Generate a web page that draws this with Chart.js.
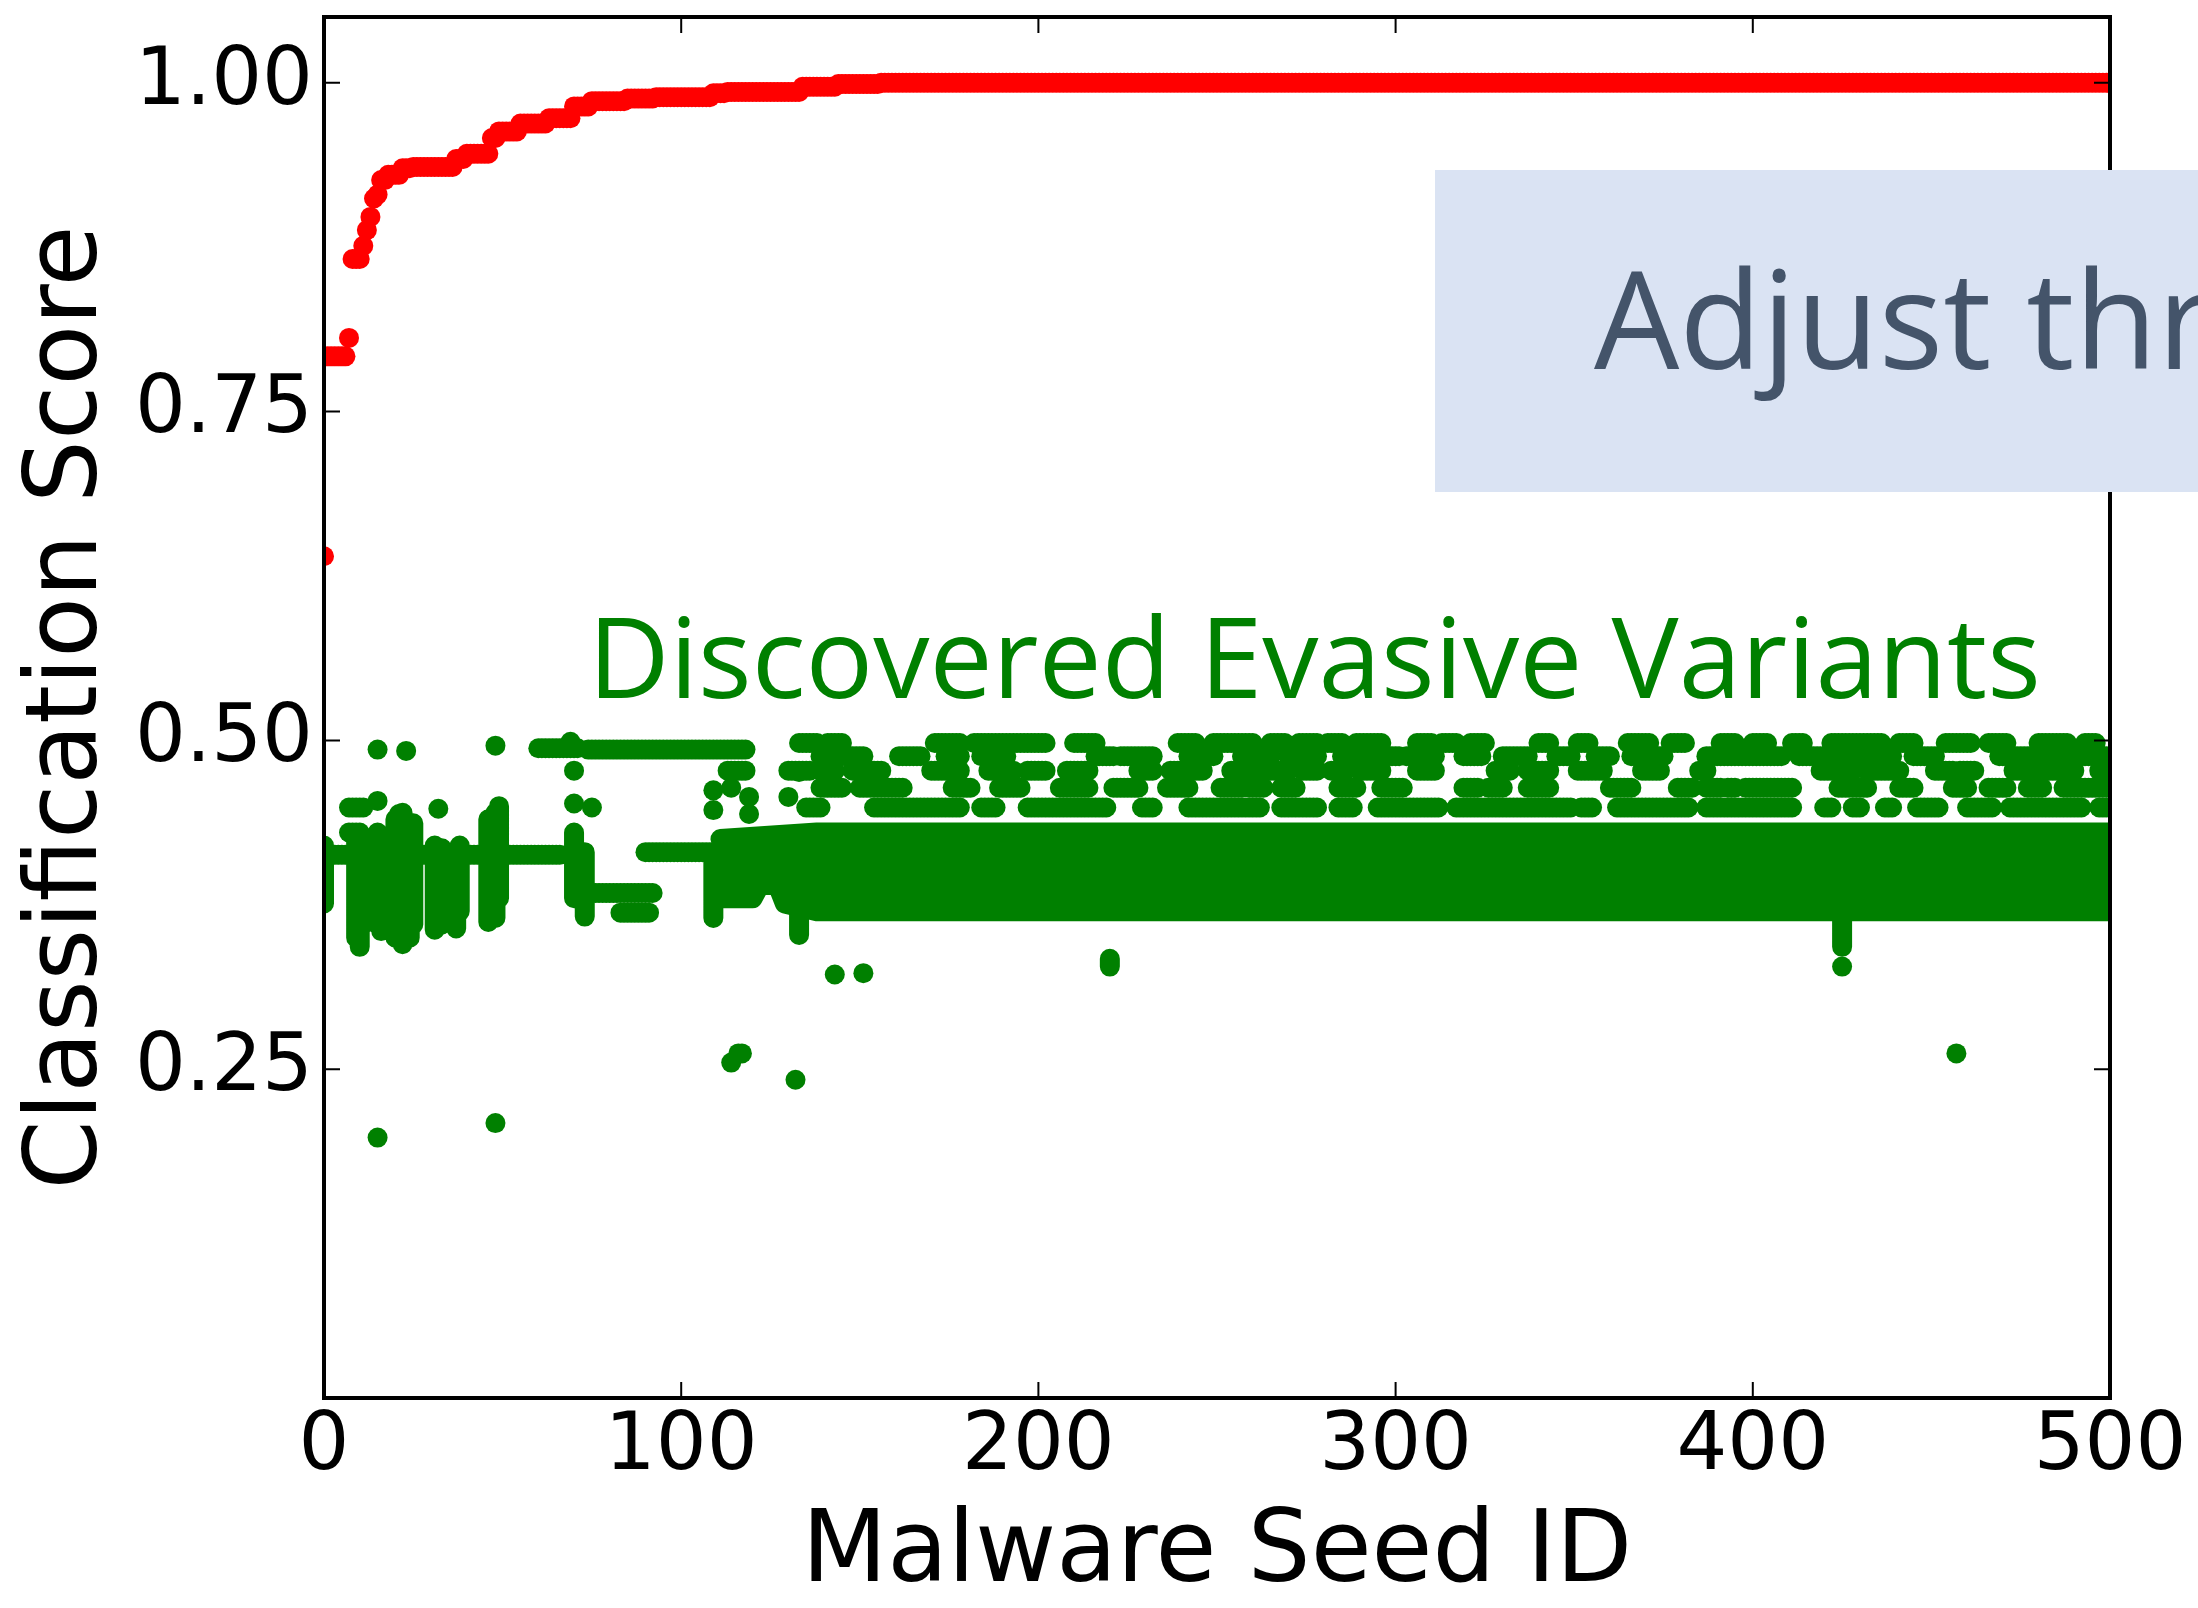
<!DOCTYPE html>
<html lang="en">
<head>
<meta charset="utf-8">
<title>Classification Score</title>
<script src="https://cdn.jsdelivr.net/npm/chart.js@4.4.1/dist/chart.umd.min.js"></script>
<style>
    body { margin: 0; background: #ffffff; }
    #grafico_seeds { display: block; }
</style>
</head>
<body>
<canvas id="grafico_seeds" width="2198" height="1608"></canvas>
<script>
var seedTicks = [0, 100, 200, 300, 400, 500];
var scoreTicks = [0.25, 0.50, 0.75, 1.00];

// original score of each seed: [firstSeed, lastSeed, score]
var seedScores = [
    [0, 0, 0.640], [1, 6, 0.792], [7, 7, 0.806], [8, 10, 0.866], [11, 11, 0.876], [12, 12, 0.888],
    [13, 13, 0.898], [14, 14, 0.912], [15, 15, 0.915], [16, 17, 0.926], [18, 21, 0.930], [22, 24, 0.935],
    [25, 36, 0.936], [37, 39, 0.942], [40, 46, 0.946], [47, 48, 0.958], [49, 54, 0.963], [55, 62, 0.969],
    [63, 69, 0.973], [70, 74, 0.982], [75, 84, 0.986], [85, 92, 0.988], [93, 108, 0.989], [109, 112, 0.992],
    [113, 133, 0.993], [134, 143, 0.997], [144, 155, 0.999], [156, 500, 1.000]
];

// evasive variants, consecutive seeds sharing a score: [firstSeed, lastSeed, score]
var variantRuns = [
    [0, 66, 0.413], [90, 110, 0.415], [60, 71, 0.494], [74, 118, 0.493], [74, 92, 0.384], [83, 91, 0.369],
    [7, 11, 0.449], [7, 10, 0.430], [113, 118, 0.477]
];

// variants above the dense band, one list of [firstSeed, lastSeed] per score level
var upperLevels = [0.498, 0.488, 0.477, 0.464, 0.449];
var upperRuns = [
    [[133,138],[141,145],[171,178],[182,202],[210,216],[239,244],[249,260],[265,269],[273,278],[281,285],[289,296],
     [306,310],[313,317],[321,325],[340,343],[351,354],[365,371],[377,381],[391,395],[400,404],[411,414],[422,436],
     [441,445],[454,461],[466,471],[480,488],[493,496]],
    [[139,151],[161,167],[174,178],[184,191],[216,221],[223,232],[242,249],[257,265],[270,278],[285,290],[294,301],
     [303,311],[319,324],[330,337],[345,349],[356,360],[366,375],[387,408],[413,419],[423,439],[445,451],[469,499]],
    [[130,136],[139,143],[148,156],[170,178],[186,193],[197,202],[208,214],[228,232],[237,246],[254,270],[274,278],
     [282,286],[290,296],[306,311],[328,332],[337,343],[351,358],[369,374],[385,387],[419,428],[432,441],[451,456],
     [458,462],[473,483],[484,490],[497,499]],
    [[139,145],[150,162],[176,181],[189,195],[206,214],[221,228],[236,242],[251,257],[259,263],[268,272],[284,289],
     [296,302],[319,323],[326,330],[337,343],[360,366],[379,383],[387,391],[393,395],[398,411],[424,432],[441,445],
     [456,460],[466,471],[477,481],[487,499]],
    [[135,139],[154,178],[184,188],[197,219],[229,232],[242,262],[268,278],[284,288],[295,312],[317,349],[352,355],
     [362,382],[387,411],[420,422],[428,430],[437,439],[446,452],[460,467],[472,492],[497,499]]
];

// seeds whose variants spread over a score range: [seed, lowScore, highScore]
var variantSpreads = [
    [0, 0.376, 0.420], [9, 0.350, 0.425], [10, 0.343, 0.420], [11, 0.360, 0.420], [12, 0.370, 0.420],
    [15, 0.360, 0.430], [16, 0.355, 0.420], [20, 0.350, 0.440], [22, 0.345, 0.445], [24, 0.350, 0.430],
    [25, 0.360, 0.437], [31, 0.356, 0.420], [33, 0.360, 0.418], [37, 0.357, 0.410], [38, 0.370, 0.420],
    [46, 0.362, 0.440], [48, 0.365, 0.445], [49, 0.380, 0.450], [70, 0.380, 0.430], [73, 0.366, 0.415],
    [109, 0.365, 0.410], [133, 0.352, 0.400], [220, 0.328, 0.334], [425, 0.343, 0.372]
];

// single variants: [seed, score]
var variantPoints = [
    [15, 0.493], [23, 0.492], [48, 0.496], [15, 0.454], [21, 0.444], [32, 0.448], [49, 0.444], [15, 0.427],
    [69, 0.499], [70, 0.477], [70, 0.452], [75, 0.449], [109, 0.462], [114, 0.464], [109, 0.447], [119, 0.457],
    [119, 0.444], [130, 0.457], [133, 0.476], [15, 0.198], [48, 0.209], [114, 0.255], [116, 0.262], [117, 0.262],
    [132, 0.242], [143, 0.322], [151, 0.323], [425, 0.328], [457, 0.262]
];

// edges of the dense band of variants: [seed, score]
var bandUpper = [[111, 0.425], [138, 0.430], [500, 0.430]];
var bandLower = [[111, 0.380], [120, 0.380], [122, 0.390], [127, 0.390], [129, 0.376], [138, 0.370], [500, 0.370]];

var verde = '#008000';
var vermelho = '#ff0000';

function pontosDasCorridas(corridas) {
    var pontos = [];
    corridas.forEach(function (c) {
        for (var s = c[0]; s <= c[1]; s++) {
            pontos.push({ x: s, y: c[2] });
        }
    });
    return pontos;
}

var pontosVermelhos = pontosDasCorridas(seedScores);

var pontosVerdes = pontosDasCorridas(variantRuns);
upperRuns.forEach(function (lista, i) {
    pontosVerdes = pontosVerdes.concat(pontosDasCorridas(lista.map(function (r) { return [r[0], r[1], upperLevels[i]]; })));
});
variantPoints.forEach(function (p) { pontosVerdes.push({ x: p[0], y: p[1] }); });

var colunas = [];
variantSpreads.forEach(function (v) {
    colunas.push({ x: v[0], y: v[1] }, { x: v[0], y: v[2] }, { x: v[0], y: null });
});

function comoPontos(lista) {
    return lista.map(function (p) { return { x: p[0], y: p[1] }; });
}

var moldura = {
    id: 'moldura',
    afterDatasetsDraw: function (chart) {
        var ctx = chart.ctx;
        var a = chart.chartArea;
        var sx = chart.scales.x;
        var sy = chart.scales.y;
        ctx.save();
        ctx.strokeStyle = '#000000';
        ctx.lineWidth = 2;
        ctx.beginPath();
        seedTicks.forEach(function (v) {
            var px = sx.getPixelForValue(v);
            ctx.moveTo(px, a.bottom); ctx.lineTo(px, a.bottom - 16);
            ctx.moveTo(px, a.top); ctx.lineTo(px, a.top + 16);
        });
        scoreTicks.forEach(function (v) {
            var py = sy.getPixelForValue(v);
            ctx.moveTo(a.left, py); ctx.lineTo(a.left + 16, py);
            ctx.moveTo(a.right, py); ctx.lineTo(a.right - 16, py);
        });
        ctx.stroke();
        ctx.lineWidth = 4;
        ctx.strokeRect(a.left, a.top, a.right - a.left, a.bottom - a.top);
        ctx.restore();
    },
    afterDraw: function (chart) {
        var ctx = chart.ctx;
        ctx.save();
        ctx.fillStyle = verde;
        ctx.font = "112.5px 'Open Sans'";
        ctx.textBaseline = 'alphabetic';
        ctx.fillText('Discovered Evasive Variants', 588, 698);

        ctx.fillStyle = '#dae3f3';
        ctx.fillRect(1435, 170, chart.width - 1435, 322);
        ctx.fillStyle = '#44546a';
        ctx.font = "135px 'Open Sans'";
        ctx.fillText('Adjust threshold', 1594, 369);
        ctx.restore();
    }
};

var graficoSeeds = new Chart(document.getElementById('grafico_seeds').getContext('2d'), {
    type: 'scatter',
    data: {
        datasets: [
            {
                label: 'Seed score',
                data: pontosVermelhos,
                backgroundColor: vermelho,
                borderWidth: 0,
                pointRadius: 10,
                pointHoverRadius: 10,
                clip: 0
            },
            {
                label: 'Variants',
                data: pontosVerdes,
                backgroundColor: verde,
                borderWidth: 0,
                pointRadius: 10,
                pointHoverRadius: 10,
                clip: 0
            },
            {
                type: 'line',
                label: 'Variant spread',
                data: colunas,
                borderColor: verde,
                borderWidth: 20,
                borderCapStyle: 'round',
                borderJoinStyle: 'round',
                pointRadius: 0,
                spanGaps: false,
                fill: false,
                clip: 0
            },
            {
                type: 'line',
                label: 'Band top',
                data: comoPontos(bandUpper),
                borderColor: verde,
                backgroundColor: verde,
                borderWidth: 20,
                borderCapStyle: 'round',
                borderJoinStyle: 'round',
                pointRadius: 0,
                fill: '+1',
                clip: 0
            },
            {
                type: 'line',
                label: 'Band bottom',
                data: comoPontos(bandLower),
                borderColor: verde,
                borderWidth: 20,
                borderCapStyle: 'round',
                borderJoinStyle: 'round',
                pointRadius: 0,
                fill: false,
                clip: 0
            }
        ]
    },
    options: {
        responsive: false,
        animation: false,
        events: [],
        layout: {
            padding: { top: 17, right: 88, left: 0, bottom: 0 }
        },
        plugins: {
            legend: { display: false },
            tooltip: { enabled: false }
        },
        scales: {
            x: {
                type: 'linear',
                min: 0,
                max: 500,
                offset: false,
                afterBuildTicks: function (s) { s.ticks = seedTicks.map(function (v) { return { value: v }; }); },
                afterFit: function (s) { s.height = 210; s.paddingLeft = 0; s.paddingRight = 0; },
                grid: { display: false, drawTicks: false },
                border: { display: false },
                ticks: {
                    padding: 2,
                    color: '#000000',
                    autoSkip: false,
                    maxRotation: 0,
                    font: { family: 'DejaVu Sans', size: 80 },
                    callback: function (v) { return String(v); }
                },
                title: {
                    display: true,
                    text: 'Malware Seed ID',
                    color: '#000000',
                    font: { family: 'DejaVu Sans', size: 99, lineHeight: 1 },
                    padding: { top: 0, bottom: 3 }
                }
            },
            y: {
                type: 'linear',
                min: 0,
                max: 1.05,
                afterBuildTicks: function (s) { s.ticks = scoreTicks.map(function (v) { return { value: v }; }); },
                afterFit: function (s) { s.width = 324; s.paddingTop = 0; s.paddingBottom = 0; },
                grid: { display: false, drawTicks: false },
                border: { display: false },
                ticks: {
                    padding: 11,
                    color: '#000000',
                    font: { family: 'DejaVu Sans', size: 80 },
                    callback: function (v) { return Number(v).toFixed(2); }
                },
                title: {
                    display: true,
                    text: 'Classification Score',
                    color: '#000000',
                    font: { family: 'DejaVu Sans', size: 99, lineHeight: 1 },
                    padding: { top: 21, bottom: 0 }
                }
            }
        }
    },
    plugins: [moldura]
});
</script>
</body>
</html>
